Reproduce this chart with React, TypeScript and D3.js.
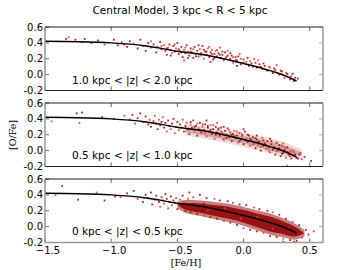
import * as d3 from 'd3';
import React from 'react';

// model track (same curve in every panel)
const trackFeH = [-1.5, -1.25, -1.0, -0.75, -0.5, -0.25, 0.0, 0.1, 0.2, 0.3, 0.4];
const trackOFe = [0.42, 0.415, 0.4, 0.365, 0.295, 0.235, 0.14, 0.1, 0.05, -0.005, -0.08];

const xTicks = [-1.5, -1.0, -0.5, 0.0, 0.5];
const yTicks = [-0.2, 0.0, 0.2, 0.4, 0.6];

const zLabels = ['1.0 kpc < |z| < 2.0 kpc', '0.5 kpc < |z| < 1.0 kpc', '0 kpc < |z| < 0.5 kpc'];

const starsHigh: [number, number][] = [
  [-1.32, 0.47], [-1.34, 0.45], [-1.27, 0.44], [-1.22, 0.41], [-1.15, 0.40], [-1.1, 0.43], [-1.05, 0.38],
  [-0.98, 0.44], [-0.95, 0.37], [-0.92, 0.41], [-0.88, 0.35], [-0.86, 0.42], [-0.83, 0.39], [-0.8, 0.33],
  [-0.78, 0.44], [-0.76, 0.36], [-0.74, 0.30], [-0.72, 0.40], [-0.7, 0.34], [-0.68, 0.38], [-0.66, 0.28],
  [-0.65, 0.35], [-0.63, 0.41], [-0.62, 0.32], [-0.6, 0.37], [-0.59, 0.30], [-0.58, 0.25], [-0.57, 0.34],
  [-0.56, 0.38], [-0.55, 0.31], [-0.54, 0.27], [-0.53, 0.36], [-0.52, 0.29], [-0.51, 0.33], [-0.5, 0.40],
  [-0.49, 0.26], [-0.48, 0.30], [-0.47, 0.35], [-0.46, 0.22], [-0.45, 0.31], [-0.44, 0.27], [-0.43, 0.37],
  [-0.42, 0.29], [-0.41, 0.24], [-0.40, 0.33], [-0.39, 0.28], [-0.38, 0.21], [-0.37, 0.35], [-0.36, 0.26],
  [-0.35, 0.30], [-0.34, 0.23], [-0.33, 0.32], [-0.32, 0.27], [-0.31, 0.36], [-0.30, 0.20], [-0.29, 0.29],
  [-0.28, 0.25], [-0.27, 0.33], [-0.26, 0.22], [-0.25, 0.28], [-0.24, 0.31], [-0.23, 0.19], [-0.22, 0.26],
  [-0.21, 0.30], [-0.2, 0.23], [-0.19, 0.27], [-0.18, 0.34], [-0.17, 0.21], [-0.16, 0.25], [-0.15, 0.18],
  [-0.14, 0.28], [-0.13, 0.22], [-0.12, 0.30], [-0.1, 0.20], [-0.09, 0.24], [-0.08, 0.15], [-0.06, 0.22],
  [-0.05, 0.18], [-0.03, 0.26], [-0.02, 0.13], [0.0, 0.19], [0.02, 0.16], [0.04, 0.11], [0.06, 0.14],
  [0.08, 0.20], [0.1, 0.09], [0.12, 0.13], [0.14, 0.07], [0.16, 0.11], [0.18, 0.05], [0.2, 0.09],
  [0.22, 0.02], [0.24, 0.06], [0.25, 0.12], [0.27, 0.0], [0.29, 0.04], [0.31, -0.04], [0.33, 0.01],
  [0.35, -0.06], [0.36, -0.02], [0.38, -0.08], [0.41, -0.05],
  [-0.62, 0.36], [-0.58, 0.33], [-0.55, 0.24], [-0.52, 0.38], [-0.49, 0.32], [-0.47, 0.28], [-0.44, 0.34],
  [-0.42, 0.21], [-0.4, 0.29], [-0.38, 0.32], [-0.36, 0.23], [-0.34, 0.37], [-0.32, 0.24], [-0.3, 0.31],
  [-0.28, 0.29], [-0.26, 0.35], [-0.24, 0.26], [-0.22, 0.21], [-0.2, 0.31], [-0.18, 0.25], [-0.16, 0.29],
  [-0.14, 0.20], [-0.12, 0.24], [-0.1, 0.27], [-0.08, 0.22], [-0.06, 0.18], [-0.04, 0.23], [-0.02, 0.20],
  [0.0, 0.15], [0.03, 0.21], [0.05, 0.17], [0.07, 0.10], [0.09, 0.15], [0.11, 0.18], [0.13, 0.10],
  [0.15, 0.14], [0.19, 0.10], [0.23, 0.08], [0.28, 0.05], [0.32, 0.02], [0.37, 0.01], [0.39, -0.04],
  [-0.7, 0.42], [-0.9, 0.38], [-1.2, 0.45], [-0.45, 0.18], [-0.25, 0.16], [-0.05, 0.11],
];

const starsMid: [number, number][] = [
  [-1.45, 0.37], [-1.26, 0.47], [-1.22, 0.48], [-1.24, 0.35], [-1.07, 0.42], [-0.98, 0.40], [-0.9, 0.44],
  [-0.86, 0.39], [-0.84, 0.45], [-0.82, 0.34], [-0.8, 0.41], [-0.78, 0.47], [-0.76, 0.36], [-0.74, 0.43],
  [-0.72, 0.33], [-0.71, 0.39], [-0.7, 0.30], [-0.68, 0.37], [-0.67, 0.44], [-0.66, 0.34], [-0.65, 0.27],
  [-0.64, 0.39], [-0.63, 0.32], [-0.62, 0.36], [-0.61, 0.42], [-0.6, 0.29], [-0.59, 0.35], [-0.58, 0.24],
  [-0.57, 0.38], [-0.56, 0.31], [-0.55, 0.27], [-0.54, 0.34], [-0.53, 0.40], [-0.52, 0.22], [-0.51, 0.30],
  [-0.5, 0.36], [-0.49, 0.26], [-0.48, 0.33], [-0.47, 0.29], [-0.46, 0.39], [-0.45, 0.24], [-0.44, 0.31],
  [-0.43, 0.35], [-0.42, 0.27], [-0.41, 0.21], [-0.4, 0.33], [-0.39, 0.29], [-0.38, 0.38], [-0.37, 0.25],
  [-0.36, 0.31], [-0.35, 0.19], [-0.34, 0.28], [-0.33, 0.35], [-0.32, 0.23], [-0.31, 0.30], [-0.3, 0.26],
  [-0.29, 0.33], [-0.28, 0.18], [-0.27, 0.29], [-0.26, 0.24], [-0.25, 0.32], [-0.24, 0.21], [-0.23, 0.27],
  [-0.22, 0.15], [-0.21, 0.30], [-0.2, 0.23], [-0.19, 0.26], [-0.18, 0.19], [-0.17, 0.29], [-0.16, 0.22],
  [-0.15, 0.14], [-0.14, 0.25], [-0.13, 0.20], [-0.12, 0.28], [-0.11, 0.17], [-0.1, 0.23], [-0.09, 0.12],
  [-0.08, 0.21], [-0.07, 0.25], [-0.06, 0.16], [-0.05, 0.19], [-0.04, 0.10], [-0.03, 0.22], [-0.02, 0.14],
  [-0.01, 0.18], [0.0, 0.08], [0.01, 0.24], [0.02, 0.15], [0.03, 0.11], [0.04, 0.19], [0.05, 0.06],
  [0.06, 0.13], [0.07, 0.17], [0.08, 0.09], [0.09, 0.03], [0.1, 0.14], [0.11, 0.07], [0.12, 0.11],
  [0.13, 0.0], [0.14, 0.16], [0.15, 0.06], [0.16, 0.09], [0.17, 0.02], [0.18, 0.12], [0.19, 0.04],
  [0.2, -0.02], [0.21, 0.08], [0.22, 0.01], [0.23, 0.05], [0.24, -0.05], [0.25, 0.10], [0.26, 0.0],
  [0.27, 0.03], [0.28, -0.07], [0.29, 0.06], [0.3, -0.03], [0.31, 0.01], [0.32, -0.09], [0.33, 0.04],
  [0.34, -0.05], [0.35, -0.01], [0.36, -0.1], [0.37, -0.06], [0.38, -0.02], [0.4, -0.09], [0.42, -0.05],
  [0.44, -0.11], [0.46, -0.08], [0.51, -0.13], [0.33, -0.19],
  [-0.4, 0.36], [-0.37, 0.30], [-0.35, 0.34], [-0.33, 0.26], [-0.31, 0.33], [-0.29, 0.22], [-0.27, 0.31],
  [-0.25, 0.26], [-0.23, 0.32], [-0.21, 0.20], [-0.19, 0.28], [-0.17, 0.24], [-0.15, 0.30], [-0.13, 0.16],
  [-0.11, 0.26], [-0.09, 0.20], [-0.07, 0.18], [-0.05, 0.24], [-0.03, 0.12], [-0.01, 0.20], [0.01, 0.13],
  [0.03, 0.20], [0.05, 0.15], [0.07, 0.08], [0.09, 0.16], [0.11, 0.11], [0.13, 0.05], [0.15, 0.13],
  [0.17, 0.07], [0.19, 0.00], [0.21, 0.12], [0.23, 0.03], [0.25, -0.01], [0.27, 0.07], [0.29, -0.04],
  [0.31, 0.04], [0.33, -0.02], [0.35, -0.07], [0.37, 0.0], [0.39, -0.05], [0.41, -0.10], [0.43, -0.03],
  [0.1, 0.19], [0.0, 0.27], [-0.2, 0.35], [-0.28, 0.38], [0.2, 0.15], [0.3, 0.09],
];

const starsLow: [number, number][] = [
  [-1.42, 0.40], [-1.37, 0.51], [-1.25, 0.34], [-1.11, 0.43], [-1.05, 0.33], [-0.97, 0.38], [-0.93, 0.37],
  [-0.88, 0.42], [-0.83, 0.45], [-0.80, 0.35], [-0.76, 0.31], [-0.74, 0.40], [-0.72, 0.36], [-0.7, 0.43],
  [-0.69, 0.28], [-0.67, 0.34], [-0.66, 0.39], [-0.64, 0.31], [-0.63, 0.25], [-0.62, 0.37], [-0.61, 0.33],
  [-0.6, 0.29], [-0.59, 0.41], [-0.58, 0.35], [-0.57, 0.23], [-0.56, 0.31], [-0.55, 0.38], [-0.54, 0.27],
  [-0.53, 0.33], [-0.52, 0.30], [-0.51, 0.36], [-0.5, 0.22], [-0.49, 0.29], [-0.48, 0.34], [-0.47, 0.26],
  [-0.46, 0.39], [-0.45, 0.31], [-0.44, 0.20], [-0.43, 0.28], [-0.42, 0.35], [-0.41, 0.43], [-0.40, 0.18],
  [-0.38, 0.37], [-0.35, 0.16], [-0.33, 0.40], [-0.3, 0.14], [-0.28, 0.36], [-0.25, 0.12], [-0.22, 0.35],
  [-0.2, 0.10], [-0.18, 0.33], [-0.15, 0.07], [-0.12, 0.32], [-0.1, 0.05], [-0.08, 0.30], [-0.05, 0.02],
  [-0.03, 0.28], [0.0, -0.02], [0.02, 0.27], [0.05, -0.04], [0.08, 0.24], [0.1, -0.06], [0.12, 0.22],
  [0.15, -0.08], [0.18, 0.20], [0.2, -0.12], [0.22, 0.18], [0.25, -0.13], [0.27, 0.15], [0.3, -0.15],
  [0.32, 0.10], [0.35, -0.17], [0.37, 0.06], [0.4, -0.18], [0.42, 0.02], [0.44, -0.14], [0.47, -0.04],
  [0.49, -0.10], [0.53, -0.06], [0.3, -0.19], [0.38, -0.19],
  [-0.4, 0.27], [-0.35, 0.24], [-0.3, 0.29], [-0.27, 0.2], [-0.22, 0.25], [-0.18, 0.17], [-0.14, 0.23],
  [-0.1, 0.15], [-0.06, 0.2], [-0.02, 0.1], [0.02, 0.16], [0.06, 0.06], [0.1, 0.12], [0.14, 0.02],
  [0.18, 0.08], [0.22, -0.03], [0.26, 0.04], [0.3, -0.07], [0.34, -0.02], [0.38, -0.1],
];

// dense core of the distribution: [Fe/H], lower and upper [O/Fe]
const coreMidFeH = [-0.44, -0.19, 0.06, 0.31, 0.44];
const coreMidLo = [0.21, 0.13, 0.04, -0.065, -0.09];
const coreMidHi = [0.32, 0.26, 0.19, 0.09, 0.0];

const coreLowFeH = [-0.5, -0.44, -0.3, -0.19, -0.1, 0.01, 0.1, 0.21, 0.3, 0.39, 0.46];
const coreLowLo = [0.25, 0.19, 0.14, 0.1, 0.07, 0.02, -0.03, -0.09, -0.12, -0.15, -0.11];
const coreLowHi = [0.3, 0.32, 0.31, 0.29, 0.27, 0.23, 0.19, 0.145, 0.09, 0.02, -0.06];

type Core = { f: number[]; lo: number[]; hi: number[]; outer: number; inner: number };

const panels: { stars: [number, number][]; core: Core | null }[] = [
  { stars: starsHigh, core: null },
  { stars: starsMid, core: { f: coreMidFeH, lo: coreMidLo, hi: coreMidHi, outer: 0.15, inner: 0.25 } },
  { stars: starsLow, core: { f: coreLowFeH, lo: coreLowLo, hi: coreLowHi, outer: 0.5, inner: 0.85 } },
];

const W = 360;
const H = 270;
const left = 45;
const right = 323;
const panelTop = [27, 103, 179];
const panelH = 63.5;
const sans = 'DejaVu Sans, sans-serif';
const serif = 'DejaVu Serif, serif';

const fmtX = (v: number) => (v < 0 ? '\u2212' : '') + Math.abs(v).toFixed(1);
const fmtY = (v: number) => v.toFixed(1);

export default function App() {
  const x = d3.scaleLinear().domain([-1.5, 0.6]).range([left, right]);
  return (
    <svg width={W} height={H} style={{ position: 'absolute', left: 0, top: 0, background: '#fff' }}>
      <text x={180} y={14} fontFamily={sans} fontSize={10.5} textAnchor="middle">
        Central Model, 3 kpc &lt; R &lt; 5 kpc
      </text>
      {panels.map((p, i) => {
        const top = panelTop[i];
        const y = d3.scaleLinear().domain([-0.2, 0.6]).range([top + panelH, top]);
        const line = d3
          .line<number>()
          .x((_, k) => x(trackFeH[k]))
          .y((d) => y(d))
          .curve(d3.curveCatmullRom);
        let coreD: string | null = null;
        let coreInner: string | null = null;
        if (p.core) {
          const c = p.core;
          const area = (shrink: number) =>
            d3
              .area<number>()
              .x((d) => x(d))
              .y0((_, k) => y(c.lo[k] + shrink))
              .y1((_, k) => y(c.hi[k] - shrink))
              .curve(d3.curveCatmullRom)(c.f);
          coreD = area(-0.015);
          coreInner = area(0.025);
        }
        const bottom = top + panelH;
        return (
          <g key={i}>
            <clipPath id={`clip${i}`}>
              <rect x={left} y={top} width={right - left} height={panelH} />
            </clipPath>
            <g clipPath={`url(#clip${i})`}>
              {coreD && <path d={coreD} fill="#8e0000" opacity={p.core!.outer} />}
              {coreInner && <path d={coreInner} fill="#8e0000" opacity={p.core!.inner} />}
              {p.stars.map(([fe, o], k) => (
                <rect
                  key={k}
                  x={x(fe) - 0.9}
                  y={y(o) - 0.9}
                  width={1.8}
                  height={1.8}
                  fill={k % 3 === 0 ? '#d84040' : '#a80a0a'}
                  opacity={0.9}
                />
              ))}
              <path d={line(trackOFe) || ''} fill="none" stroke="#000" strokeWidth={1.5} />
            </g>
            {xTicks.map((t) => (
              <g key={`xt${t}`} stroke="#000" strokeWidth={0.6}>
                <line x1={x(t)} x2={x(t)} y1={top} y2={top + 4} />
                <line x1={x(t)} x2={x(t)} y1={bottom} y2={bottom - 4} />
              </g>
            ))}
            {yTicks.map((t) => (
              <g key={`yt${t}`} strokeWidth={0.6}>
                <line x1={left} x2={left + 4} y1={y(t)} y2={y(t)} stroke="#000" />
                <line x1={right} x2={right - 4} y1={y(t)} y2={y(t)} stroke="#777" />
                <text x={left - 2} y={y(t) + 3.5} fontFamily={sans} fontSize={10} textAnchor="end" stroke="none">
                  {fmtY(t)}
                </text>
              </g>
            ))}
            {/* spines */}
            <line x1={left} x2={right} y1={top} y2={top} stroke="#222" strokeWidth={1} />
            <line
              x1={left}
              x2={right}
              y1={bottom}
              y2={bottom}
              stroke={i === 2 ? '#999' : '#222'}
              strokeWidth={i === 2 ? 1.5 : 1}
            />
            <line x1={left} x2={left} y1={top} y2={bottom} stroke="#999" strokeWidth={1.5} />
            <line x1={right} x2={right} y1={top} y2={bottom} stroke="#999" strokeWidth={1.5} />
            <text x={72} y={[83.5, 158.5, 235][i]} fontFamily={sans} fontSize={10.5}>
              {zLabels[i]}
            </text>
          </g>
        );
      })}
      {xTicks.map((t) => (
        <text key={`xl${t}`} x={x(t) + (t < 0 ? 3 : 0)} y={254} fontFamily={sans} fontSize={10} textAnchor="middle">
          {fmtX(t)}
        </text>
      ))}
      <text x={186} y={266} fontFamily={serif} fontSize={9.5} textAnchor="middle">
        [Fe/H]
      </text>
      <text transform="translate(16,135) rotate(-90)" fontFamily={serif} fontSize={9.5} textAnchor="middle">
        [O/Fe]
      </text>
    </svg>
  );
}
